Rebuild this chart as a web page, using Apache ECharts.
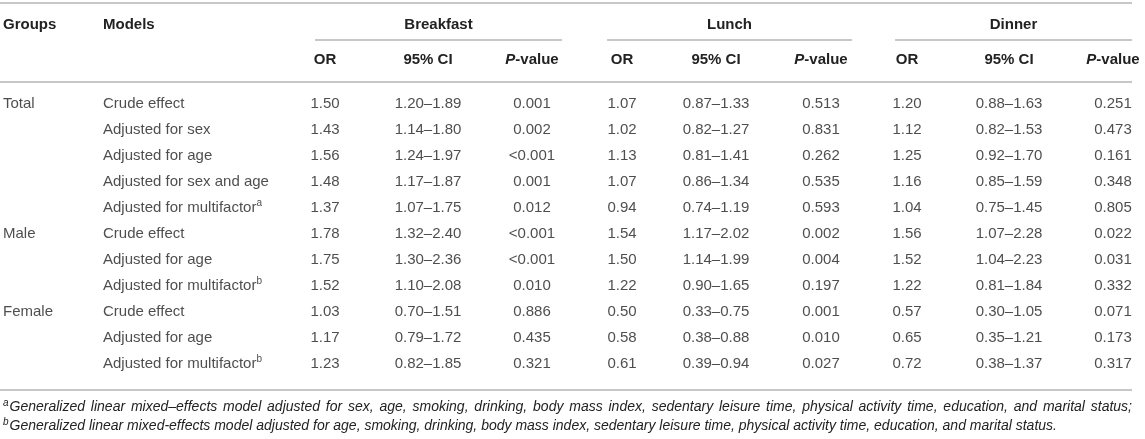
<!DOCTYPE html>
<html>
<head>
<meta charset="utf-8">
<script src="https://cdn.jsdelivr.net/npm/echarts@6/dist/echarts.min.js"></script>
<style>
  html, body { margin: 0; padding: 0; background: #fff; }
  #main { width: 1145px; height: 439px; }
</style>
</head>
<body>
<div id="main"></div>
<script>
// 表格数据
var groups = ['Total', '', '', '', '', 'Male', '', '', 'Female', '', ''];
var models = ['Crude effect', 'Adjusted for sex', 'Adjusted for age', 'Adjusted for sex and age',
    'Adjusted for multifactor', 'Crude effect', 'Adjusted for age', 'Adjusted for multifactor',
    'Crude effect', 'Adjusted for age', 'Adjusted for multifactor'];
var modelNotes = ['', '', '', '', 'a', '', '', 'b', '', '', 'b'];

var breakfastOR = [1.50, 1.43, 1.56, 1.48, 1.37, 1.78, 1.75, 1.52, 1.03, 1.17, 1.23];
var breakfastCI = [[1.20, 1.89], [1.14, 1.80], [1.24, 1.97], [1.17, 1.87], [1.07, 1.75], [1.32, 2.40],
    [1.30, 2.36], [1.10, 2.08], [0.70, 1.51], [0.79, 1.72], [0.82, 1.85]];
var breakfastP = ['0.001', '0.002', '<0.001', '0.001', '0.012', '<0.001', '<0.001', '0.010', '0.886', '0.435', '0.321'];

var lunchOR = [1.07, 1.02, 1.13, 1.07, 0.94, 1.54, 1.50, 1.22, 0.50, 0.58, 0.61];
var lunchCI = [[0.87, 1.33], [0.82, 1.27], [0.81, 1.41], [0.86, 1.34], [0.74, 1.19], [1.17, 2.02],
    [1.14, 1.99], [0.90, 1.65], [0.33, 0.75], [0.38, 0.88], [0.39, 0.94]];
var lunchP = ['0.513', '0.831', '0.262', '0.535', '0.593', '0.002', '0.004', '0.197', '0.001', '0.010', '0.027'];

var dinnerOR = [1.20, 1.12, 1.25, 1.16, 1.04, 1.56, 1.52, 1.22, 0.57, 0.65, 0.72];
var dinnerCI = [[0.88, 1.63], [0.82, 1.53], [0.92, 1.70], [0.85, 1.59], [0.75, 1.45], [1.07, 2.28],
    [1.04, 2.23], [0.81, 1.84], [0.30, 1.05], [0.35, 1.21], [0.38, 1.37]];
var dinnerP = ['0.251', '0.473', '0.161', '0.348', '0.805', '0.022', '0.031', '0.332', '0.071', '0.173', '0.317'];

var mealNames = ['Breakfast', 'Lunch', 'Dinner'];
var subHeads = ['OR', '95% CI', 'P-value'];
var footnotes = [
    ['a', 'Generalized linear mixed\u2013effects model adjusted for sex, age, smoking, drinking, body mass index, sedentary leisure time, physical activity time, education, and marital status;'],
    ['b', 'Generalized linear mixed-effects model adjusted for age, smoking, drinking, body mass index, sedentary leisure time, physical activity time, education, and marital status.']
];

// 版式
var FONT = '"Liberation Sans", Arial, Helvetica, sans-serif';
var TXT = '#222';
var RULE = '#b4b4b4';
var FS = 15;
var NOTE_FS = 14;
var colX = { groups: 3, models: 103, cols: [325, 428, 532, 622, 716, 821, 907, 1009, 1113] };
var mealSpan = [[315, 562], [607, 852], [895, 1132]];
var yTopRule = 3, yGroupHead = 25, ySubRule = 40, ySubHead = 60, yHeadRule = 82, yBottomRule = 390;
var yNotes = [407, 426];
var tableRight = 1132;

var fmtCI = function (p) { return p[0].toFixed(2) + '\u2013' + p[1].toFixed(2); };
var columns = [
    breakfastOR.map(function (v) { return v.toFixed(2); }), breakfastCI.map(fmtCI), breakfastP,
    lunchOR.map(function (v) { return v.toFixed(2); }), lunchCI.map(fmtCI), lunchP,
    dinnerOR.map(function (v) { return v.toFixed(2); }), dinnerCI.map(fmtCI), dinnerP
];

var myChart = echarts.init(document.getElementById('main'), null, { renderer: 'canvas' });

var baseLabel = { show: true, position: 'inside', color: TXT, fontFamily: FONT, fontSize: FS };

function textSeries(x, texts, align, formatter) {
    return {
        type: 'scatter',
        symbolSize: 1,
        itemStyle: { color: 'rgba(0,0,0,0)' },
        silent: true,
        data: texts.map(function (t, i) { return [x, i]; }),
        label: Object.assign({}, baseLabel, {
            align: align,
            formatter: formatter || function (p) { return texts[p.dataIndex]; },
            rich: {
                sup: { fontSize: 10, fontFamily: FONT, color: TXT, verticalAlign: 'top', lineHeight: 20 }
            }
        })
    };
}

var series = [
    textSeries(colX.groups, groups, 'left'),
    textSeries(colX.models, models, 'left', function (p) {
        var n = modelNotes[p.dataIndex];
        return models[p.dataIndex] + (n ? '{sup|' + n + '}' : '');
    })
];
columns.forEach(function (col, j) {
    series.push(textSeries(colX.cols[j], col, 'center'));
});

// 表头与横线
var graphics = [];
function hline(y, x1, x2) {
    graphics.push({ type: 'line', silent: true, shape: { x1: x1, y1: y, x2: x2, y2: y },
        style: { stroke: RULE, lineWidth: 1.5 } });
}
function htext(x, y, str, align, rich) {
    graphics.push({ type: 'text', silent: true, x: x, y: y,
        style: { text: str, align: align, verticalAlign: 'middle', fill: TXT, fontFamily: FONT,
            fontSize: FS, fontWeight: 'bold', rich: rich } });
}
hline(yTopRule, 0, tableRight);
hline(yHeadRule, 0, tableRight);
hline(yBottomRule, 0, tableRight);
mealSpan.forEach(function (s) { hline(ySubRule, s[0], s[1]); });

htext(colX.groups, yGroupHead, 'Groups', 'left');
htext(colX.models, yGroupHead, 'Models', 'left');
mealNames.forEach(function (m, k) {
    htext((mealSpan[k][0] + mealSpan[k][1]) / 2, yGroupHead, m, 'center');
    subHeads.forEach(function (h, j) {
        var x = colX.cols[k * 3 + j];
        if (h === 'P-value') {
            htext(x, ySubHead, '{i|P}-value', 'center', {
                i: { fontStyle: 'italic', fontWeight: 'bold', fontFamily: FONT, fontSize: FS, fill: TXT }
            });
        } else {
            htext(x, ySubHead, h, 'center');
        }
    });
});

// 脚注：第一行两端对齐，最后一行左对齐
var measureCtx = document.createElement('canvas').getContext('2d');
function textWidth(str, size) {
    measureCtx.font = 'italic ' + size + 'px ' + FONT;
    return measureCtx.measureText(str).width;
}
function noteText(x, y, str, size, align) {
    graphics.push({ type: 'text', silent: true, x: x, y: y,
        style: { text: str, align: align || 'left', verticalAlign: 'middle', fill: TXT, fontFamily: FONT,
            fontSize: size, fontStyle: 'italic' } });
}
footnotes.forEach(function (f, k) {
    var y = yNotes[k];
    noteText(3, y - 4, f[0], 10);
    var x0 = 3 + textWidth(f[0], 10) + 1;
    if (k === footnotes.length - 1) {
        noteText(x0, y, f[1], NOTE_FS);
        return;
    }
    var words = f[1].split(' ');
    var total = 0;
    var widths = words.map(function (w) { var ww = textWidth(w, NOTE_FS); total += ww; return ww; });
    var gap = (tableRight - x0 - total) / (words.length - 1);
    var x = x0;
    words.forEach(function (w, i) {
        noteText(x, y, w, NOTE_FS);
        x += widths[i] + gap;
    });
});

var option = {
    backgroundColor: '#fff',
    animation: false,
    grid: { left: 0, right: 0, top: 91, bottom: 62, containLabel: false },
    xAxis: { type: 'value', min: 0, max: 1145, show: false },
    yAxis: { type: 'category', inverse: true, show: false, data: models.map(function (m, i) { return i; }) },
    series: series,
    graphic: graphics
};
myChart.setOption(option);
</script>
</body>
</html>
